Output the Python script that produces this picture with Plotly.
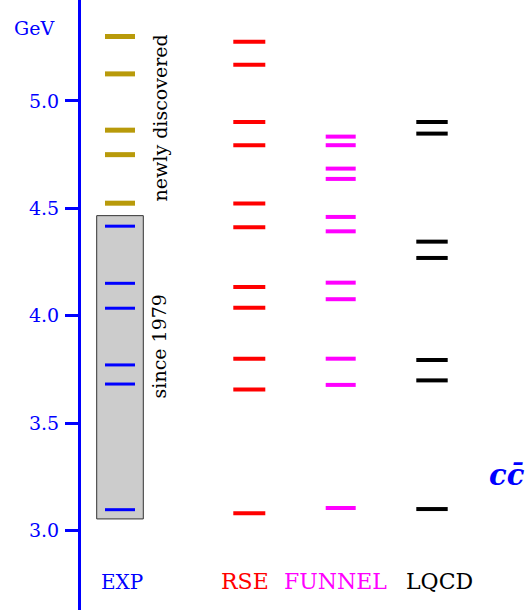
import plotly.graph_objects as go

# ---- data (GeV) ----
categories = ["EXP", "RSE", "FUNNEL", "LQCD"]
exp_new = [5.300, 5.126, 4.864, 4.750, 4.524]
exp_old = [4.417, 4.151, 4.035, 3.771, 3.682, 3.097]
rse = [5.276, 5.168, 4.902, 4.794, 4.522, 4.412, 4.134, 4.037, 3.800, 3.657, 3.080]
funnel = [4.834, 4.794, 4.685, 4.637, 4.460, 4.393, 4.154, 4.077, 3.800, 3.678, 3.105]
lqcd = [4.902, 4.848, 4.345, 4.269, 3.794, 3.699, 3.100]
since1979_range = [3.054, 4.466]
tick_vals = [3.0, 3.5, 4.0, 4.5, 5.0]
tick_text = ["3.0", "3.5", "4.0", "4.5", "5.0"]

# ---- layout constants ----
FONT = "DejaVu Serif"
centers = {"EXP": 39, "RSE": 168.3, "FUNNEL": 259.7, "LQCD": 351}
label_x = {"EXP": 40.7, "RSE": 163.5, "FUNNEL": 254.8, "LQCD": 358.5}
label_size = {"EXP": 20, "RSE": 22, "FUNNEL": 22, "LQCD": 22}
half = {"EXP": 15, "RSE": 16, "FUNNEL": 15, "LQCD": 15.7}
label_color = {"EXP": "#0000ff", "RSE": "#ff0000", "FUNNEL": "#ff00ff", "LQCD": "#000000"}


def levels(cat, values, color, width):
    xs, ys = [], []
    c, h = centers[cat], half[cat]
    for v in values:
        xs += [c - h, c + h, None]
        ys += [v, v, None]
    return go.Scatter(x=xs, y=ys, mode="lines", line=dict(color=color, width=width),
                      hoverinfo="skip", showlegend=False)


fig = go.Figure()
fig.add_shape(type="rect", xref="x", yref="y", x0=15.7, x1=62.3,
              y0=since1979_range[0], y1=since1979_range[1],
              fillcolor="#cccccc", line=dict(color="#333333", width=1), layer="below")

fig.add_trace(levels("EXP", exp_new, "#b89a0a", 5))
fig.add_trace(levels("EXP", exp_old, "#0000ff", 3))
fig.add_trace(levels("RSE", rse, "#ff0000", 4))
fig.add_trace(levels("FUNNEL", funnel, "#ff00ff", 4))
fig.add_trace(levels("LQCD", lqcd, "#000000", 4))

for cat in categories:
    fig.add_annotation(x=label_x[cat], y=2.762, xref="x", yref="y", text=cat,
                       showarrow=False,
                       font=dict(family=FONT, size=label_size[cat], color=label_color[cat]))

fig.add_annotation(x=78.5, y=4.921, xref="x", yref="y", text="newly discovered", textangle=-90,
                   showarrow=False, font=dict(family=FONT, size=19, color="black"))
fig.add_annotation(x=77.5, y=3.855, xref="x", yref="y", text="since 1979", textangle=-90,
                   showarrow=False, font=dict(family=FONT, size=19, color="black"))
fig.add_annotation(x=406, y=3.258, xref="x", yref="y", text="<b><i>cc̄</i></b>",
                   xanchor="left", showarrow=False,
                   font=dict(family=FONT, size=29, color="#0000ff"))
fig.add_annotation(x=-0.1067, y=5.34, xref="paper", yref="y", text="GeV",
                   xanchor="center", yanchor="middle",
                   showarrow=False, font=dict(family=FONT, size=19, color="#0000ff"))

fig.update_layout(
    width=526, height=610,
    margin=dict(l=81, r=0, t=0, b=0),
    plot_bgcolor="white", paper_bgcolor="white",
    xaxis=dict(range=[0, 445], visible=False, fixedrange=True),
    yaxis=dict(range=[2.630, 5.470], tickvals=tick_vals, ticktext=tick_text,
               showline=True, linecolor="#0000ff", linewidth=3, mirror=False,
               ticks="outside", ticklen=13, tickwidth=3, tickcolor="#0000ff",
               tickfont=dict(family=FONT, size=19, color="#0000ff"),
               showgrid=False, zeroline=False, automargin=False, ticklabelstandoff=2,
               fixedrange=True),
)

fig.write_html("out.html", post_script="document.body.style.margin='0px';",
               config={"displayModeBar": False})
